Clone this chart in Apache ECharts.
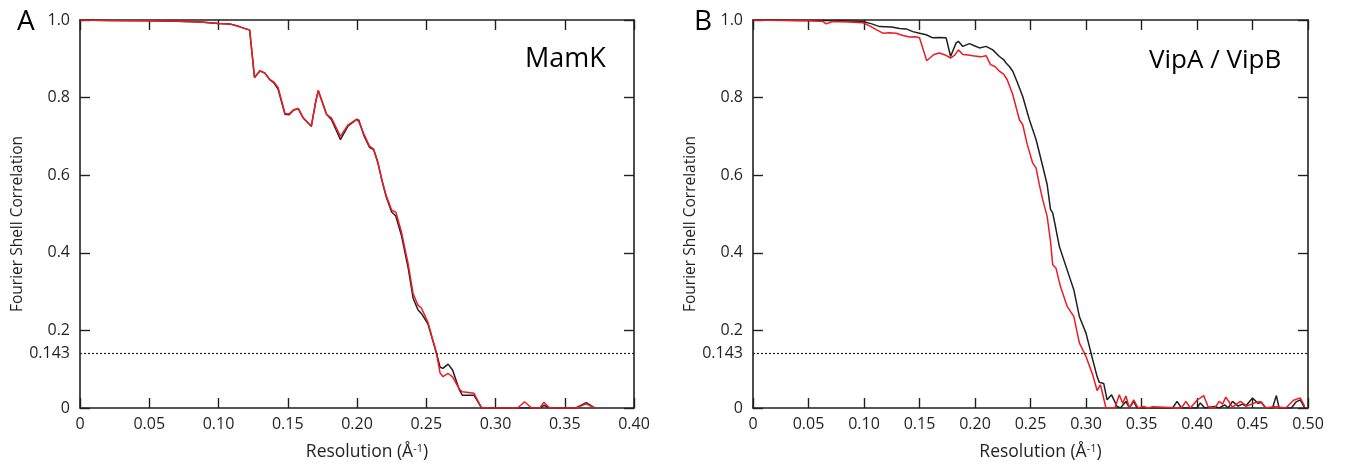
<!DOCTYPE html>
<html>
<head>
<meta charset="utf-8">
<script src="https://cdn.jsdelivr.net/npm/echarts@6/dist/echarts.min.js"></script>
<style>html,body{margin:0;padding:0;background:#fff;}#c{width:1352px;height:466px;}</style>
</head>
<body>
<div id="c"></div>
<script>
// ---- Panel A: MamK ----
const mamkRes = [0,0.02,0.05,0.07,0.087,0.10,0.108,0.115,0.1225,0.126,0.130,0.1335,0.137,0.140,0.143,0.148,0.151,0.154,0.1575,0.161,0.167,0.170,0.172,0.178,0.1816,0.188,0.1936,0.1997,0.2013,0.205,0.209,0.212,0.215,0.218,0.221,0.225,0.228,0.232,0.237,0.2405,0.244,0.2466,0.2513,0.2574,0.260,0.262,0.2658,0.269,0.274,0.276,0.2845,0.29,0.31,0.316,0.321,0.326,0.332,0.335,0.339,0.358,0.3655,0.3716];
const mamkBlack = [1.0,0.999,0.998,0.997,0.995,0.991,0.99,0.983,0.974,0.852,0.869,0.863,0.846,0.838,0.822,0.757,0.756,0.767,0.772,0.748,0.726,0.786,0.818,0.757,0.743,0.692,0.727,0.744,0.742,0.702,0.672,0.666,0.633,0.586,0.545,0.505,0.495,0.446,0.36,0.283,0.253,0.243,0.216,0.141,0.105,0.102,0.113,0.098,0.046,0.033,0.033,0.0,0,0,0,0,0,0.007,0,0,0.014,0];
const mamkRed   = [1.0,0.999,0.998,0.997,0.995,0.991,0.99,0.983,0.974,0.852,0.869,0.863,0.847,0.840,0.826,0.759,0.758,0.768,0.772,0.749,0.726,0.786,0.818,0.757,0.747,0.700,0.730,0.744,0.738,0.706,0.675,0.667,0.635,0.588,0.548,0.51,0.505,0.455,0.37,0.295,0.265,0.257,0.22,0.141,0.09,0.081,0.089,0.08,0.048,0.042,0.038,0.0,0,0,0.016,0,0,0.015,0,0,0.011,0];

// ---- Panel B: VipA / VipB ----
const vipBlackRes = [0,0.02,0.04,0.06,0.084,0.099,0.107,0.114,0.125,0.132,0.138,0.144,0.150,0.156,0.162,0.168,0.174,0.178,0.183,0.185,0.189,0.195,0.200,0.204,0.210,0.216,0.222,0.226,0.228,0.231,0.234,0.238,0.243,0.249,0.255,0.261,0.265,0.268,0.27,0.273,0.276,0.283,0.289,0.294,0.30,0.306,0.310,0.312,0.316,0.319,0.323,0.328,0.331,0.336,0.339,0.343,0.346,0.378,0.382,0.386,0.400,0.403,0.407,0.416,0.420,0.425,0.428,0.432,0.437,0.441,0.444,0.45,0.455,0.458,0.462,0.468,0.4715,0.474,0.485,0.489,0.493,0.497];
const vipBlackFsc = [1.0,1.0,0.999,0.999,0.998,0.996,0.99,0.983,0.982,0.978,0.977,0.97,0.966,0.962,0.954,0.955,0.954,0.906,0.941,0.945,0.932,0.939,0.933,0.928,0.932,0.923,0.906,0.897,0.889,0.88,0.868,0.84,0.803,0.743,0.692,0.623,0.576,0.512,0.503,0.46,0.416,0.356,0.305,0.236,0.193,0.125,0.081,0.066,0.063,0.021,0.034,0.004,0,0.017,0,0.017,0,0,0.017,0,0,0.013,0,0.004,0,0.008,0,0.017,0.005,0.01,0.005,0.026,0.012,0.015,0,0,0.032,0,0,0.015,0.021,0];
const vipRedRes = [0,0.03,0.05,0.06,0.063,0.066,0.072,0.085,0.099,0.105,0.111,0.117,0.123,0.129,0.135,0.141,0.146,0.150,0.1565,0.163,0.168,0.173,0.178,0.182,0.185,0.189,0.194,0.198,0.205,0.210,0.214,0.218,0.222,0.226,0.229,0.234,0.24,0.243,0.247,0.252,0.255,0.258,0.261,0.265,0.268,0.27,0.273,0.277,0.283,0.289,0.294,0.30,0.306,0.310,0.313,0.318,0.326,0.33,0.333,0.336,0.339,0.343,0.347,0.352,0.356,0.36,0.386,0.39,0.394,0.40,0.406,0.41,0.416,0.42,0.423,0.426,0.432,0.439,0.445,0.451,0.457,0.462,0.47,0.48,0.487,0.493,0.497];
const vipRedFsc = [1.0,0.999,0.998,0.997,0.996,0.99,0.996,0.995,0.993,0.985,0.975,0.966,0.967,0.966,0.96,0.956,0.957,0.954,0.895,0.911,0.915,0.91,0.902,0.91,0.923,0.911,0.91,0.908,0.905,0.908,0.885,0.88,0.868,0.86,0.846,0.808,0.743,0.73,0.68,0.631,0.619,0.575,0.537,0.494,0.43,0.369,0.36,0.313,0.262,0.236,0.168,0.133,0.086,0.045,0.06,0,0,0.034,0.012,0.031,0,0.021,0,0.004,0,0.003,0,0.017,0,0.02,0.032,0.003,0,0.017,0.01,0.028,0.002,0.017,0.005,0.012,0.017,0,0.004,0,0.02,0.026,0.004];

const fscThreshold = 0.143;
const panelTitles = ['MamK', 'VipA / VipB'];
const panelLetters = ['A', 'B'];
const xMax = [0.40, 0.50];

const FONT = '"Open Sans", "Noto Sans", sans-serif';
const INK = '#231f20';
const RED = '#ed1c24';

function zip(xs, ys) { return xs.map((x, i) => [x, ys[i]]); }

const grids = [
  {left: 80, top: 20, width: 554, height: 388, outerBoundsMode: 'none', containLabel: false},
  {left: 753, top: 20, width: 555, height: 388, outerBoundsMode: 'none', containLabel: false}
];

const axisLine = {show: true, onZero: false, lineStyle: {color: INK, width: 1.6}};
const axisTick = {show: true, inside: true, length: 10, lineStyle: {color: INK, width: 1.4}};

const xAxes = [], yAxes = [];
[0, 1].forEach(g => {
  xAxes.push({
    type: 'value', gridIndex: g, min: 0, max: xMax[g], interval: 0.05, position: 'bottom',
    axisLine, axisTick, splitLine: {show: false},
    axisLabel: {color: INK, fontFamily: FONT, fontSize: 16, margin: 8,
      formatter: v => v === 0 ? '0' : v.toFixed(2)},
    name: 'Resolution (Å{sup|-1})', nameLocation: 'middle', nameGap: 35,
    nameTextStyle: {color: INK, fontFamily: FONT, fontSize: 17.5, padding: [0, 0, 0, 20],
      rich: {sup: {fontFamily: FONT, fontSize: 11, color: INK, padding: [0, 0, 8, 0]}}}
  });
  xAxes.push({
    type: 'value', gridIndex: g, min: 0, max: xMax[g], interval: 0.05, position: 'top',
    axisLine, axisTick, splitLine: {show: false}, axisLabel: {show: false}
  });
  yAxes.push({
    type: 'value', gridIndex: g, min: 0, max: 1, interval: 0.2, position: 'left',
    axisLine, axisTick, splitLine: {show: false},
    axisLabel: {color: INK, fontFamily: FONT, fontSize: 16, margin: 10,
      formatter: v => v === 0 ? '0' : v.toFixed(1)},
    name: 'Fourier Shell Correlation', nameLocation: 'middle', nameGap: 54, nameRotate: 90,
    nameTextStyle: {color: INK, fontFamily: FONT, fontSize: 15.5, padding: [0, 20, 0, 0]}
  });
  yAxes.push({
    type: 'value', gridIndex: g, min: 0, max: 1, interval: 0.2, position: 'right',
    axisLine, axisTick, splitLine: {show: false}, axisLabel: {show: false}
  });
});

function thresholdLine() {
  return {
    silent: true, symbol: 'none', animation: false,
    lineStyle: {color: INK, type: [2, 2], width: 1.2},
    label: {show: true, position: 'start', distance: 10, formatter: String(fscThreshold),
      color: INK, fontFamily: FONT, fontSize: 16},
    data: [{yAxis: fscThreshold}]
  };
}

const lineBase = {type: 'line', showSymbol: false, symbol: 'none', smooth: false, animation: false};

const series = [
  Object.assign({}, lineBase, {name: 'MamK black', xAxisIndex: 0, yAxisIndex: 0,
    data: zip(mamkRes, mamkBlack), lineStyle: {color: INK, width: 1.5}, itemStyle: {color: INK},
    markLine: thresholdLine()}),
  Object.assign({}, lineBase, {name: 'MamK red', xAxisIndex: 0, yAxisIndex: 0,
    data: zip(mamkRes, mamkRed), lineStyle: {color: RED, width: 1.5}, itemStyle: {color: RED}}),
  Object.assign({}, lineBase, {name: 'Vip black', xAxisIndex: 2, yAxisIndex: 2,
    data: zip(vipBlackRes, vipBlackFsc), lineStyle: {color: INK, width: 1.5}, itemStyle: {color: INK},
    markLine: thresholdLine()}),
  Object.assign({}, lineBase, {name: 'Vip red', xAxisIndex: 2, yAxisIndex: 2,
    data: zip(vipRedRes, vipRedFsc), lineStyle: {color: RED, width: 1.5}, itemStyle: {color: RED}})
];

const graphic = [
  {type: 'text', left: 17, top: 8, style: {text: panelLetters[0], fill: '#000', font: '28px ' + FONT}},
  {type: 'text', left: 694, top: 8, style: {text: panelLetters[1], fill: '#000', font: '28px ' + FONT}},
  {type: 'text', left: 525, top: 46, style: {text: panelTitles[0], fill: '#000', font: '27px ' + FONT}},
  {type: 'text', left: 1149, top: 48, style: {text: panelTitles[1], fill: '#000', font: '26px ' + FONT}}
];

const chart = echarts.init(document.getElementById('c'), null, {renderer: 'canvas'});
chart.setOption({
  animation: false,
  backgroundColor: '#fff',
  grid: grids,
  xAxis: xAxes,
  yAxis: yAxes,
  series,
  graphic
});
</script>
</body>
</html>
